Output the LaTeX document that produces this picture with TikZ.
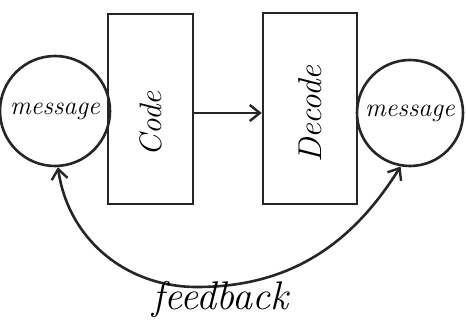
\documentclass[tikz,border=0pt]{standalone}
\usetikzlibrary{arrows.meta}
\begin{document}
\begin{tikzpicture}[x=1pt,y=1pt,
  ink/.style={line width=2.6pt, draw=black!85},
  msg/.style={ink, circle, inner sep=0pt, font=\fontsize{26}{30}\selectfont\itshape},
  box/.style={ink, rectangle, inner sep=0pt},
  hand/.style={font=\fontsize{#1}{#1}\selectfont\itshape},
  tip/.style={-{Straight Barb[length=10pt,width=16pt,line width=2.4pt]}},
]
\useasboundingbox (0,0) rectangle (466,325);
\node[msg, minimum size=110pt] (lm) at (55,214) {message};
\node[msg, minimum size=106pt] (rm) at (410,212) {message};
\node[box, minimum width=85pt, minimum height=190pt] (code) at (150.5,216) {};
\node[box, minimum width=94pt, minimum height=191pt] (dec) at (310,216.5) {};
\node[rotate=90, hand=31] (codet) at (150.5,201) {Code};
\node[rotate=90, hand=33] (dect) at (310,211) {Decode};
\draw[ink, tip] (code.east |- 0,212) -- (dec.west |- 0,212);
\coordinate (low) at (197,38);
\draw[ink, tip] (low) to[out=180, in=-82] (lm.-87);
\draw[ink, tip] (low) to[out=0, in=-122] (rm.-100);
\node[hand=40] (fb) at (220,26) {feedback};
\end{tikzpicture}
\end{document}
